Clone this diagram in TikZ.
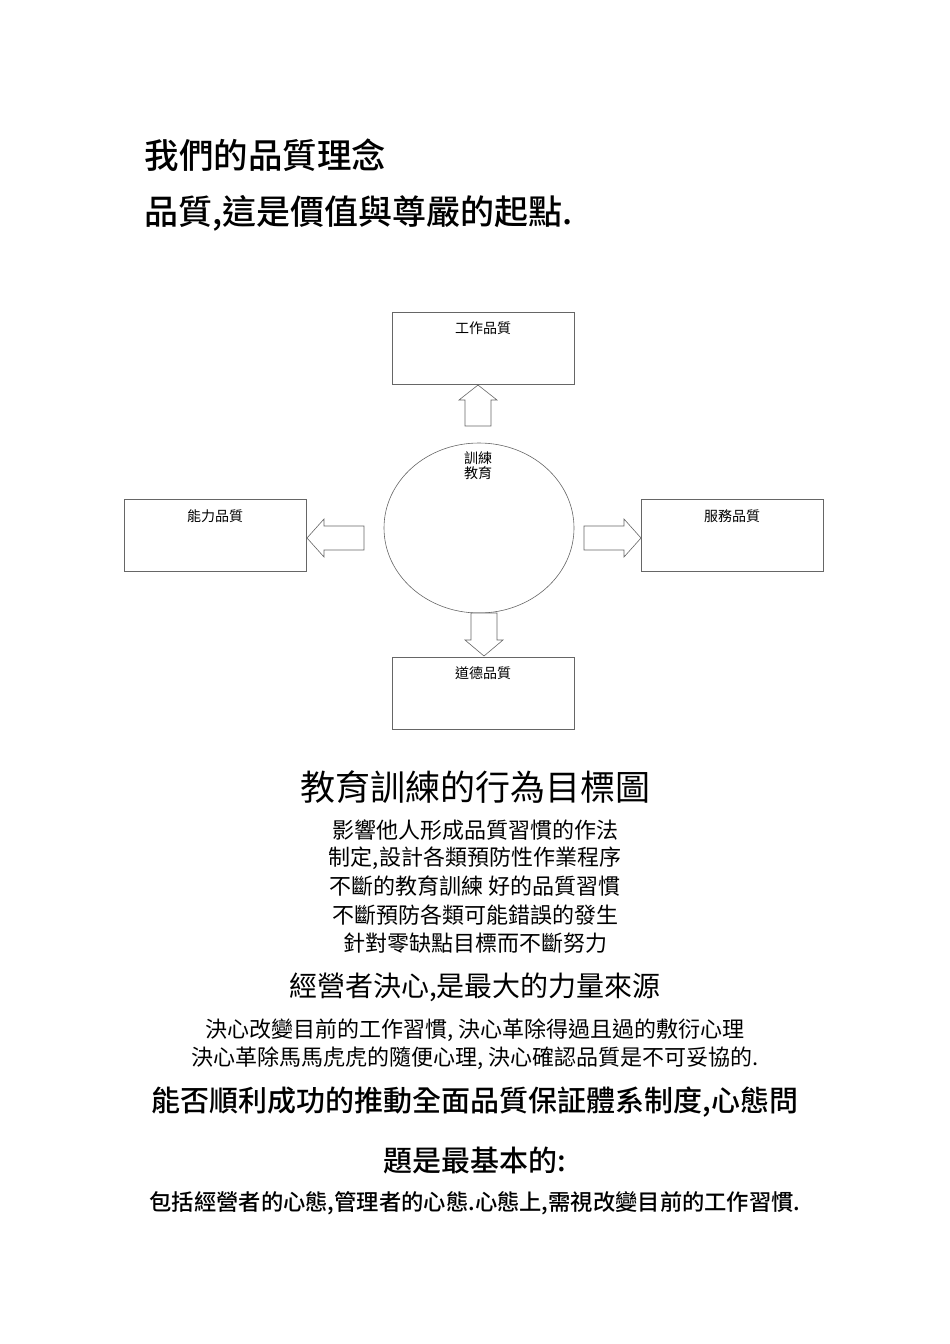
\documentclass[tikz,border=0pt]{standalone}
\usepackage{fontspec}
\setmainfont{Noto Sans CJK TC}
\newfontfamily\med{Noto Sans CJK TC Medium}
\usetikzlibrary{shapes.geometric,shapes.arrows}
\begin{document}
\begin{tikzpicture}[x=1pt,y=-1pt,
  qbox/.style={draw=black!60,line width=0.6pt},
  blk/.style={draw=black!60,line width=0.6pt,fill=white},
  lab/.style={font=\fontsize{14}{16}\selectfont},
  ln/.style={anchor=center,font=\fontsize{22}{24}\selectfont}]
\useasboundingbox (0,0) rectangle (950,1344);
\node[anchor=west,font=\fontsize{34.5}{36}\selectfont\med] (t1) at (141,155) {我們的品質理念};
\node[anchor=west,font=\fontsize{34}{36}\selectfont\med] (t2) at (141,213) {品質,這是價值與尊嚴的起點.};
% boxes
\draw[qbox] (392,312) rectangle (574,384); \node[lab] (b1) at (483,328) {工作品質};
\draw[qbox] (124,499) rectangle (306,571); \node[lab] (b2) at (215,516) {能力品質};
\draw[qbox] (641,499) rectangle (823,571); \node[lab] (b3) at (732,516) {服務品質};
\draw[qbox] (392,657) rectangle (574,729); \node[lab] (b4) at (483,673) {道德品質};
\draw[qbox] (479,528) ellipse [x radius=95, y radius=85];
\node[lab,align=center] (c) at (478,466) {訓練\\[-1pt]教育};
% arrows
\draw[blk] (465,426)--(491,426)--(491,400)--(497,400)--(478,385)--(459,400)--(465,400)--cycle;
\draw[blk] (471,613)--(497,613)--(497,640)--(503,640)--(484,656)--(465,640)--(471,640)--cycle;
\draw[blk] (364,526)--(364,550)--(324,550)--(324,557)--(307,538)--(324,519)--(324,526)--cycle;
\draw[blk] (584,526)--(584,550)--(624,550)--(624,557)--(641,538)--(624,519)--(624,526)--cycle;
% text
\node[anchor=center,font=\fontsize{35}{37}\selectfont] (h1) at (475,787) {教育訓練的行為目標圖};
\node[ln] at (475,830) {影響他人形成品質習慣的作法};
\node[ln] at (475,858) {制定,設計各類預防性作業程序};
\node[ln] at (475,886) {不斷的教育訓練\ 好的品質習慣};
\node[ln] at (475,915) {不斷預防各類可能錯誤的發生};
\node[ln] at (475,943) {針對零缺點目標而不斷努力};
\node[anchor=center,font=\fontsize{28}{30}\selectfont] at (475,987) {經營者決心,是最大的力量來源};
\node[ln] at (475,1030) {決心改變目前的工作習慣, 決心革除得過且過的敷衍心理};
\node[ln] at (475,1058) {決心革除馬馬虎虎的隨便心理, 決心確認品質是不可妥協的.};
\node[anchor=center,font=\fontsize{29}{31}\selectfont\med] at (475,1102) {能否順利成功的推動全面品質保証體系制度,心態問};
\node[anchor=center,font=\fontsize{29}{31}\selectfont\med] at (475,1160) {題是最基本的:};
\node[anchor=center,font=\fontsize{22.3}{24}\selectfont\med] at (475,1203) {包括經營者的心態,管理者的心態.心態上,需視改變目前的工作習慣.};
\end{tikzpicture}
\end{document}
